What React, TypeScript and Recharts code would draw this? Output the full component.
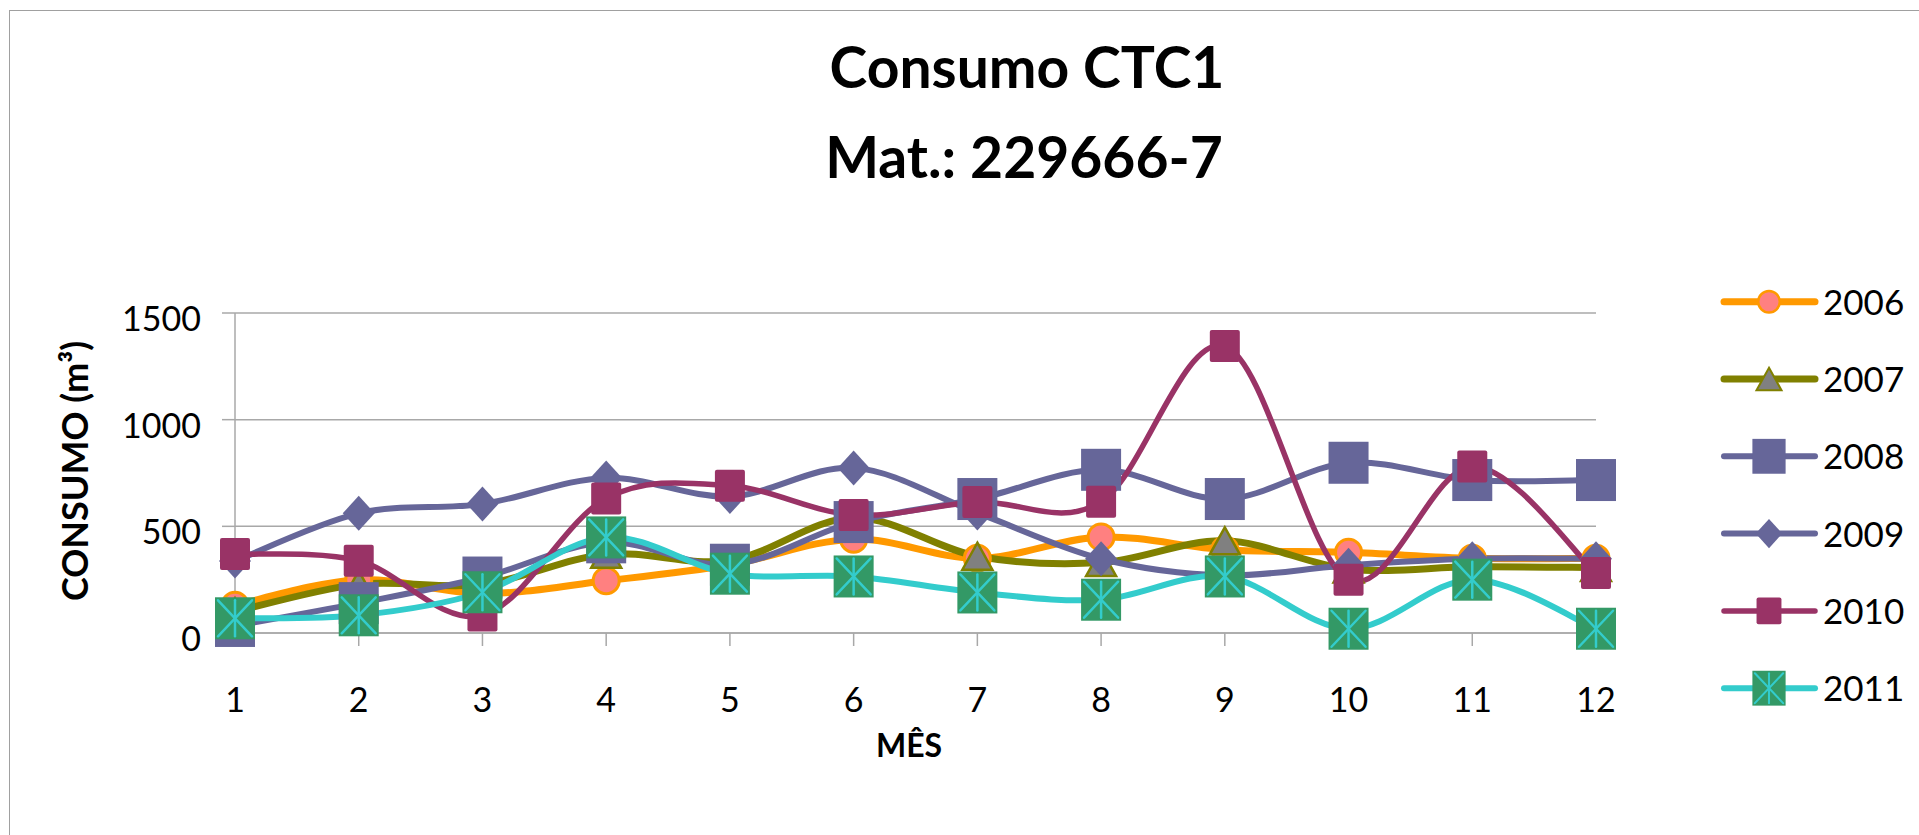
import React from "react";
import { LineChart, Line, XAxis, YAxis, CartesianGrid } from "recharts";

const months = [1, 2, 3, 4, 5, 6, 7, 8, 9, 10, 11, 12];
const yTicks = [0, 500, 1000, 1500];

const consumo2006 = [130, 250, 185, 245, 320, 440, 350, 450, 390, 378, 350, 350];
const consumo2007 = [100, 228, 228, 369, 340, 540, 360, 330, 432, 300, 310, 307];
const consumo2008 = [33, 140, 260, 425, 320, 520, 628, 765, 628, 798, 717, 717];
const consumo2009 = [337, 561, 605, 727, 640, 774, 563, 348, 270, 318, 348, 348];
const consumo2010 = [370, 339, 82, 631, 690, 553, 614, 615, 1345, 250, 781, 281];
const consumo2011 = [69, 83, 191, 448, 278, 265, 190, 156, 265, 20, 250, 20];

const data = months.map((m, i) => ({
  month: m,
  y2006: consumo2006[i],
  y2007: consumo2007[i],
  y2008: consumo2008[i],
  y2009: consumo2009[i],
  y2010: consumo2010[i],
  y2011: consumo2011[i],
}));

type Kind = "circle" | "triangle" | "bigSquare" | "diamond" | "square" | "star";

const series: { key: string; name: string; color: string; width: number; kind: Kind }[] = [
  { key: "y2006", name: "2006", color: "#FF9900", width: 7, kind: "circle" },
  { key: "y2007", name: "2007", color: "#808000", width: 7, kind: "triangle" },
  { key: "y2008", name: "2008", color: "#666699", width: 6, kind: "bigSquare" },
  { key: "y2009", name: "2009", color: "#666699", width: 6, kind: "diamond" },
  { key: "y2010", name: "2010", color: "#993366", width: 5.5, kind: "square" },
  { key: "y2011", name: "2011", color: "#33CCCC", width: 6, kind: "star" },
];

const FONT = "Lato, 'Open Sans', sans-serif";
const GRID = "#a8a8a8";

// excel-like smoothing (catmull-rom through the points)
function smoothCurve(context: any) {
  let pts: number[][] = [];
  return {
    areaStart() {},
    areaEnd() {},
    lineStart() {
      pts = [];
    },
    lineEnd() {
      const n = pts.length;
      if (!n) return;
      context.moveTo(pts[0][0], pts[0][1]);
      for (let i = 0; i < n - 1; i++) {
        const p0 = pts[Math.max(i - 1, 0)];
        const p1 = pts[i];
        const p2 = pts[i + 1];
        const p3 = pts[Math.min(i + 2, n - 1)];
        context.bezierCurveTo(
          p1[0] + (p2[0] - p0[0]) / 6,
          p1[1] + (p2[1] - p0[1]) / 6,
          p2[0] - (p3[0] - p1[0]) / 6,
          p2[1] - (p3[1] - p1[1]) / 6,
          p2[0],
          p2[1]
        );
      }
    },
    point(x: number, y: number) {
      pts.push([+x, +y]);
    },
  };
}

function Marker({ kind, cx, cy, s }: { kind: Kind; cx: number; cy: number; s: number }) {
  if (cx == null || cy == null) return null;
  if (kind === "circle") {
    return <circle cx={cx} cy={cy} r={13 * s} fill="#FF8080" stroke="#FF9900" strokeWidth={3 * s} />;
  }
  if (kind === "triangle") {
    const w = 30 * s;
    const h = 27 * s;
    return (
      <polygon
        points={`${cx},${cy - h / 2} ${cx + w / 2},${cy + h / 2} ${cx - w / 2},${cy + h / 2}`}
        fill="#808080"
        stroke="#808000"
        strokeWidth={2.5 * s}
        strokeLinejoin="miter"
      />
    );
  }
  if (kind === "bigSquare") {
    const w = 40 * s;
    const h = 42 * s;
    return <rect x={cx - w / 2} y={cy - h / 2} width={w} height={h} fill="#666699" />;
  }
  if (kind === "diamond") {
    const w = 32 * s;
    const h = 35 * s;
    return (
      <polygon
        points={`${cx},${cy - h / 2} ${cx + w / 2},${cy} ${cx},${cy + h / 2} ${cx - w / 2},${cy}`}
        fill="#666699"
      />
    );
  }
  if (kind === "square") {
    const w = 30 * s;
    const h = 32 * s;
    return <rect x={cx - w / 2} y={cy - h / 2} width={w} height={h} rx={2} fill="#993366" />;
  }
  const w = 40 * s;
  const h = 42 * s;
  const ix = 3 * s;
  return (
    <g>
      <rect x={cx - w / 2} y={cy - h / 2} width={w} height={h} fill="#339966" />
      <g stroke="#33CCCC" strokeWidth={2.5 * s} strokeLinecap="round">
        <line x1={cx} y1={cy - h / 2 + ix} x2={cx} y2={cy + h / 2 - ix} />
        <line x1={cx - w / 2 + ix} y1={cy - h / 2 + ix} x2={cx + w / 2 - ix} y2={cy + h / 2 - ix} />
        <line x1={cx + w / 2 - ix} y1={cy - h / 2 + ix} x2={cx - w / 2 + ix} y2={cy + h / 2 - ix} />
      </g>
    </g>
  );
}

const XTick = (props: any) => (
  <text x={props.x} y={props.y + 64} textAnchor="middle" fontSize={34} fontFamily={FONT} fill="#000">
    {props.payload.value}
  </text>
);

const YTick = (props: any) => (
  <text x={props.x} y={props.y + 18} textAnchor="end" fontSize={34} fontFamily={FONT} fill="#000">
    {props.payload.value}
  </text>
);

export default function App() {
  return (
    <div style={{ position: "relative", width: 1919, height: 835, overflow: "hidden", background: "#fff" }}>
      <style>{"body{margin:0;overflow:hidden}"}</style>
      <div
        style={{
          position: "absolute",
          left: 9,
          top: 10,
          width: 1960,
          height: 900,
          borderTop: "1.5px solid #a0a0a0",
          borderLeft: "1.5px solid #a0a0a0",
        }}
      />
      <div style={{ position: "absolute", left: 0, top: 0 }}>
        <LineChart width={1919} height={835} data={data} margin={{ top: 313, right: 323, left: 0, bottom: 102 }}>
          <CartesianGrid vertical={false} stroke={GRID} strokeWidth={1.5} />
          <XAxis
            dataKey="month"
            type="number"
            domain={[1, 12]}
            ticks={months}
            interval={0}
            height={100}
            tick={<XTick />}
            tickSize={13}
            tickMargin={2}
            axisLine={{ stroke: GRID, strokeWidth: 1.5 }}
            tickLine={{ stroke: GRID, strokeWidth: 1.5 }}
          />
          <YAxis
            type="number"
            domain={[0, 1500]}
            ticks={yTicks}
            interval={0}
            width={235}
            tick={<YTick />}
            tickSize={13}
            tickMargin={21}
            axisLine={{ stroke: GRID, strokeWidth: 1.5 }}
            tickLine={{ stroke: GRID, strokeWidth: 1.5 }}
          />
          {series.map((s) => (
            <Line
              key={s.key}
              dataKey={s.key}
              name={s.name}
              type={smoothCurve as any}
              stroke={s.color}
              strokeWidth={s.width}
              strokeLinejoin="round"
              strokeLinecap="round"
              isAnimationActive={false}
              activeDot={false}
              dot={(p: any) => <Marker key={`${s.key}-${p.index}`} kind={s.kind} cx={p.cx} cy={p.cy} s={1} />}
            />
          ))}
        </LineChart>
      </div>
      <svg
        width={1919}
        height={835}
        style={{ position: "absolute", left: 0, top: 0, pointerEvents: "none" }}
        fontFamily={FONT}
      >
        <text x={1027} y={88} textAnchor="middle" fontSize={57} fontWeight={700} fill="#000">
          Consumo CTC1
        </text>
        <text x={1024} y={178} textAnchor="middle" fontSize={57} fontWeight={700} fill="#000">
          Mat.: 229666-7
        </text>
        <text
          transform="translate(88,471) rotate(-90)"
          textAnchor="middle"
          fontSize={36}
          fontWeight={700}
          fill="#000"
        >
          CONSUMO (m³)
        </text>
        <text x={909} y={757} textAnchor="middle" fontSize={32} fontWeight={700} fill="#000">
          MÊS
        </text>
        {series.map((s, i) => {
          const y = 301.7 + 77.3 * i;
          return (
            <g key={s.key}>
              <line x1={1724} y1={y} x2={1815} y2={y} stroke={s.color} strokeWidth={s.width} strokeLinecap="round" />
              <Marker kind={s.kind} cx={1769} cy={y} s={0.83} />
              <text x={1823} y={y + 13} fontSize={35} fill="#000">
                {s.name}
              </text>
            </g>
          );
        })}
      </svg>
    </div>
  );
}
